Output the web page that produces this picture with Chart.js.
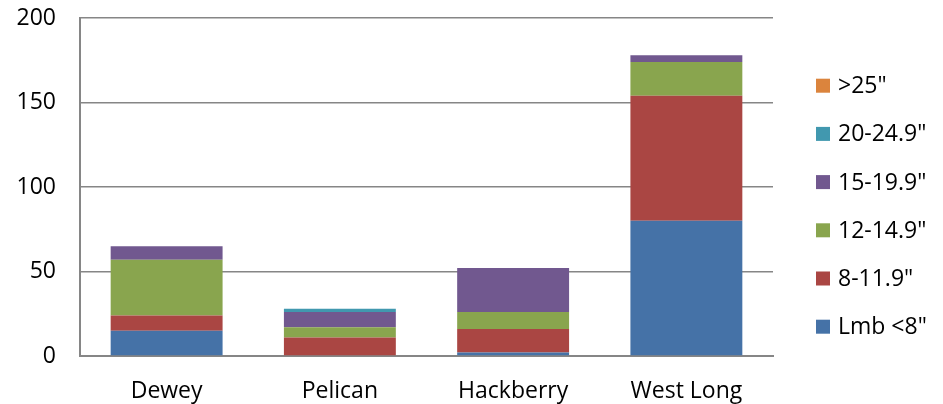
<!DOCTYPE html>
<html>
<head>
<meta charset="utf-8">
<script src="https://cdn.jsdelivr.net/npm/chart.js@4"></script>
<style>
  html, body { margin: 0; padding: 0; background: #fff; }
  #wrap { width: 943px; height: 404px; }
</style>
</head>
<body>
<div id="wrap"><canvas id="chart" width="943" height="404"></canvas></div>
<script>
// sites and fish counts by length class
const sites = ['Dewey', 'Pelican', 'Hackberry', 'West Long'];
const lmbUnder8 = [15, 0, 2, 80];
const len8to11 = [9, 11, 14, 74];
const len12to14 = [33, 6, 10, 20];
const len15to19 = [8, 9, 26, 4];
const len20to24 = [0, 2, 0, 0];
const over25 = [0, 0, 0, 0];
const yTicks = [0, 50, 100, 150, 200];

const series = [
    { label: 'Lmb <8"', data: lmbUnder8, color: '#4572A7' },
    { label: '8-11.9"', data: len8to11, color: '#AA4643' },
    { label: '12-14.9"', data: len12to14, color: '#89A54E' },
    { label: '15-19.9"', data: len15to19, color: '#71588F' },
    { label: '20-24.9"', data: len20to24, color: '#4198AF' },
    { label: '>25"', data: over25, color: '#DB843D' }
];

const fontFamily = '"Open Sans", "Liberation Sans", sans-serif';
const font = { family: fontFamily, size: 23 };

// legend column to the right of the plot, largest class on top
const sideLegend = {
    id: 'sideLegend',
    afterDraw(chart) {
        const c = chart.ctx;
        const x = chart.chartArea.right + 43;
        const rowGap = 48.2;
        const firstY = 85.7;
        c.save();
        c.font = `23px ${fontFamily}`;
        c.textBaseline = 'middle';
        series.slice().reverse().forEach((s, i) => {
            const y = firstY + i * rowGap;
            c.fillStyle = s.color;
            c.fillRect(x, y - 7, 14, 14);
            c.fillStyle = '#000';
            c.fillText(s.label, x + 22, y + 1);
        });
        c.restore();
    }
};

const ctx = document.getElementById('chart').getContext('2d');
new Chart(ctx, {
    type: 'bar',
    data: {
        labels: sites,
        datasets: series.map(s => ({
            label: s.label,
            data: s.data,
            backgroundColor: s.color,
            borderWidth: 0,
            categoryPercentage: 1,
            barPercentage: 0.646
        }))
    },
    options: {
        responsive: false,
        animation: false,
        layout: { padding: { left: 0, top: 0, right: 170, bottom: 0 } },
        plugins: {
            tooltip: { enabled: false },
            legend: { display: false }
        },
        scales: {
            x: {
                stacked: true,
                grid: { display: false },
                border: { display: true, color: '#868686', width: 2 },
                ticks: { color: '#000', font: font, padding: 14 },
                afterFit: axis => { axis.height = 48; }
            },
            y: {
                stacked: true,
                min: 0,
                max: 200,
                afterBuildTicks: axis => { axis.ticks = yTicks.map(v => ({ value: v })); },
                grid: { color: '#868686', lineWidth: 1.5, drawTicks: false },
                border: { display: true, color: '#868686', width: 2 },
                ticks: { color: '#000', font: font, padding: 24 },
                afterFit: axis => {
                    axis.width = 80;
                    axis.paddingTop = 18;
                    axis.paddingBottom = 0;
                }
            }
        }
    },
    plugins: [sideLegend]
});
</script>
</body>
</html>
